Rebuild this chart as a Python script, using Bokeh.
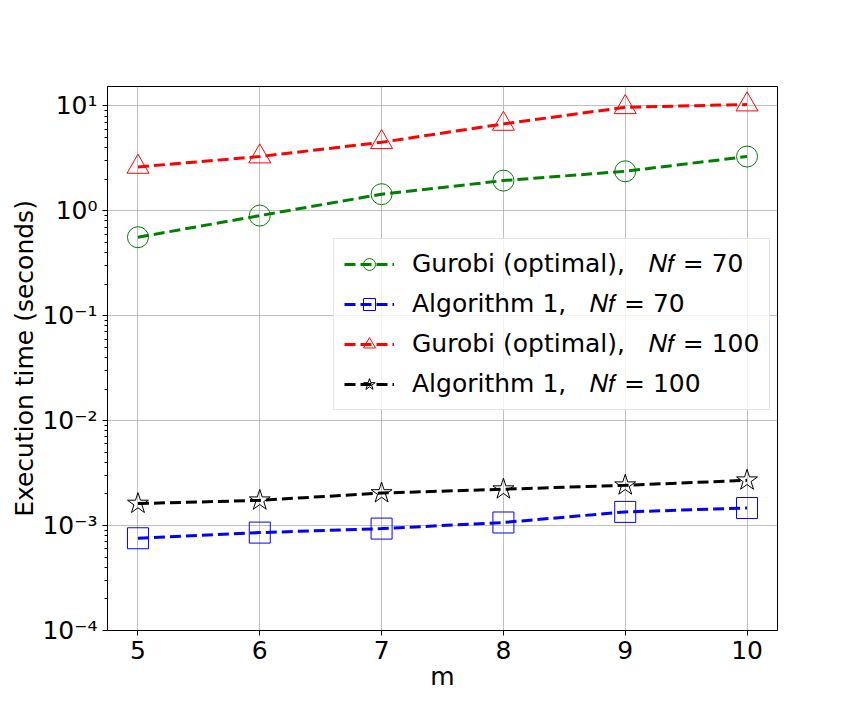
from bokeh.plotting import figure
from bokeh.models import Range1d, FixedTicker, CustomJSTickFormatter, Legend, LegendItem
from bokeh.embed import file_html
from bokeh.resources import INLINE

# ---- data ----
m_values = [5, 6, 7, 8, 9, 10]
gurobi_70 = [0.56, 0.90, 1.44, 1.94, 2.38, 3.29]
alg1_70 = [7.57e-4, 8.57e-4, 9.36e-4, 1.07e-3, 1.35e-3, 1.47e-3]
gurobi_100 = [2.62, 3.29, 4.5, 6.73, 9.7, 10.3]
alg1_100 = [1.62e-3, 1.74e-3, 2.04e-3, 2.22e-3, 2.42e-3, 2.70e-3]

x_ticks = [5, 6, 7, 8, 9, 10]
y_ticks = [1e-4, 1e-3, 1e-2, 1e-1, 1, 10]

labels = [
    "Gurobi (optimal),   \U0001D441\U0001D453 = 70",
    "Algorithm 1,   \U0001D441\U0001D453 = 70",
    "Gurobi (optimal),   \U0001D441\U0001D453 = 100",
    "Algorithm 1,   \U0001D441\U0001D453 = 100",
]

FONT = "DejaVu Sans"
FS = "25px"

p = figure(
    frame_width=670, frame_height=544,
    min_border_left=107, min_border_top=86, min_border_right=79, min_border_bottom=82,
    y_axis_type="log",
    x_range=Range1d(4.75, 10.25), y_range=Range1d(1e-4, 15.3),
    output_backend="svg", toolbar_location=None,
    x_axis_label="m", y_axis_label="Execution time (seconds)",
)
p.background_fill_color = "white"
p.border_fill_color = "white"
p.outline_line_color = "black"
p.outline_line_width = 1

minor = []
for e in range(-4, 2):
    for k in range(2, 10):
        v = k * 10.0 ** e
        if v < 15.3:
            minor.append(v)

p.xaxis.ticker = FixedTicker(ticks=x_ticks)
p.yaxis.ticker = FixedTicker(ticks=y_ticks, minor_ticks=minor)
p.yaxis.formatter = CustomJSTickFormatter(code="""
const e = Math.round(Math.log10(tick));
const sup = {'-':'\u207B','0':'\u2070','1':'\u00B9','2':'\u00B2','3':'\u00B3','4':'\u2074','5':'\u2075','6':'\u2076','7':'\u2077','8':'\u2078','9':'\u2079'};
return '10' + String(e).split('').map(c => sup[c]).join('');
""")

for ax in (p.xaxis, p.yaxis):
    ax.axis_line_color = "black"
    ax.major_tick_line_color = "black"
    ax.major_tick_out = 5
    ax.major_tick_in = 0
    ax.minor_tick_out = 3
    ax.minor_tick_in = 0
    ax.major_label_text_font = FONT
    ax.major_label_text_font_size = FS
    ax.major_label_text_color = "black"
    ax.major_label_standoff = 5
    ax.axis_label_text_font = FONT
    ax.axis_label_text_font_size = FS
    ax.axis_label_text_font_style = "normal"
    ax.axis_label_text_color = "black"
p.xaxis.minor_tick_line_color = None
p.xaxis.axis_label_standoff = 0
p.yaxis.axis_label_standoff = 0

p.xgrid.grid_line_color = "#b0b0b0"
p.ygrid.grid_line_color = "#b0b0b0"
p.xgrid.grid_line_width = 0.8
p.ygrid.grid_line_width = 0.8

series = [
    (gurobi_70, "green", "circle", 21),
    (alg1_70, "blue", "square", 21),
    (gurobi_100, "red", "triangle", 22),
    (alg1_100, "black", "star", 22),
]

items = []
for (vals, color, marker, size), lab in zip(series, labels):
    lr = p.line(m_values, vals, line_color=color, line_width=3, line_dash="11 5")
    sr = p.scatter(m_values, vals, marker=marker, size=size, fill_color=None,
                   line_color=color, line_width=1)
    items.append(LegendItem(label=lab, renderers=[lr, sr]))

legend = Legend(
    items=items, location=(226, 220),
    label_text_font=FONT, label_text_font_size=FS, label_text_color="black",
    glyph_width=50, glyph_height=30, label_height=30, label_standoff=18,
    spacing=10, padding=10, margin=0,
    border_line_color="#cccccc", border_line_width=1,
    background_fill_color="white", background_fill_alpha=0.8,
)
p.add_layout(legend)

open("out.html", "w").write(file_html(p, INLINE))
